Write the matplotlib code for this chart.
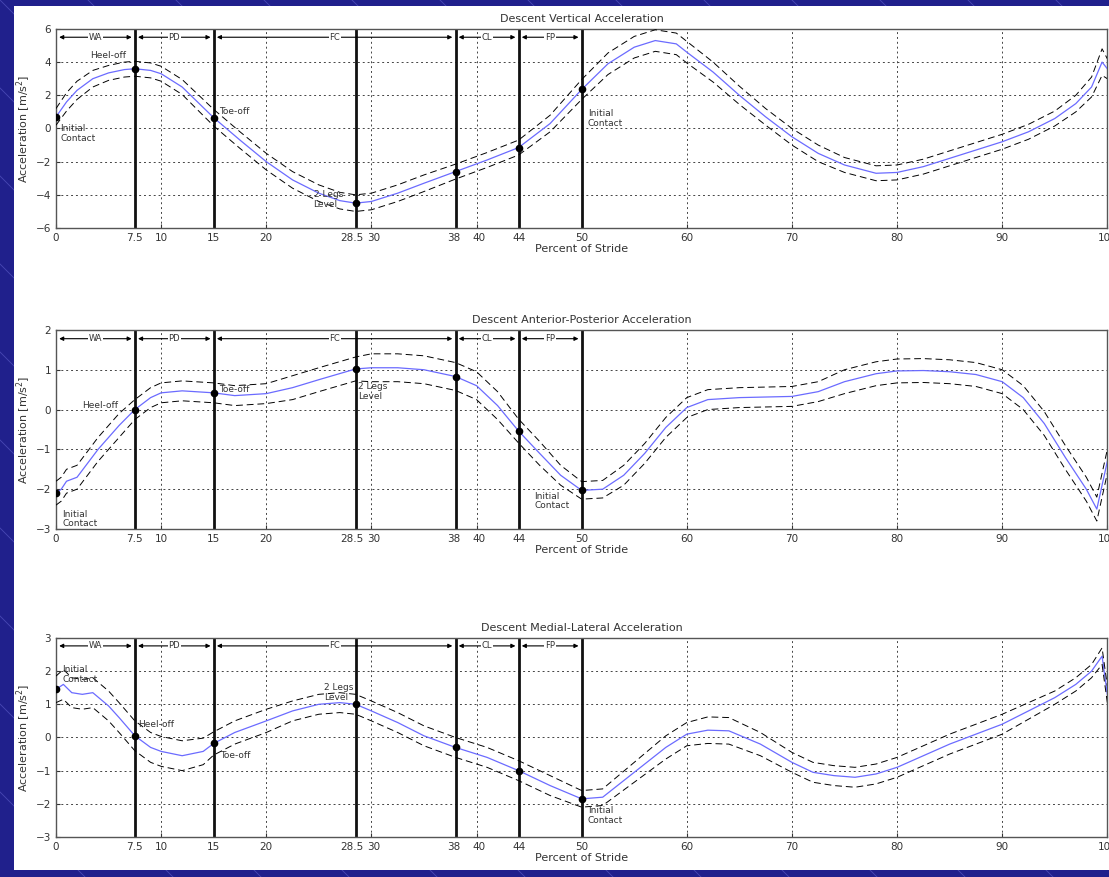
import numpy as np
import matplotlib
matplotlib.use("Agg")
import matplotlib.pyplot as plt
import matplotlib.transforms as mtransforms
from matplotlib.patches import Rectangle
from matplotlib.lines import Line2D

# ---- data ----
events = [7.5, 15, 28.5, 38, 44, 50]
xticks = [0, 7.5, 10, 15, 20, 28.5, 30, 38, 40, 44, 50, 60, 70, 80, 90, 100]
xticklabels = ["0", "7.5", "10", "15", "20", "28.5", "30", "38", "40", "44", "50",
               "60", "70", "80", "90", "100"]
phases = [("WA", 0, 7.5), ("PD", 7.5, 15), ("FC", 15, 38), ("CL", 38, 44), ("FP", 44, 50)]

# vertical
vert_x = [0, 1, 2, 3.5, 5, 6.5, 7.5, 9, 10, 12, 15, 17.5, 20, 22.5, 25, 27, 28.5, 30, 32.5, 35, 38, 41, 44,
          47, 50, 52.5, 55, 57, 59, 60, 62.5, 65, 67.5, 70, 72.5, 75, 78, 80, 82.5, 85, 87.5, 90, 92.5,
          95, 97, 98.5, 99.5, 100]
vert_m = [0.7, 1.6, 2.3, 3.0, 3.35, 3.55, 3.6, 3.5, 3.3, 2.5, 0.65, -0.7, -2.0, -3.1, -3.9, -4.35, -4.5,
          -4.4, -3.9, -3.3, -2.6, -1.9, -1.15, 0.3, 2.35, 3.9, 4.9, 5.3, 5.1, 4.6, 3.4, 2.0, 0.7, -0.5,
          -1.5, -2.2, -2.7, -2.65, -2.3, -1.8, -1.3, -0.8, -0.2, 0.6, 1.5, 2.5, 4.0, 3.6]
vert_sd = [0.5, 0.55, 0.55, 0.5, 0.45, 0.45, 0.45, 0.45, 0.45, 0.45, 0.5, 0.5, 0.5, 0.5, 0.5, 0.5, 0.5,
           0.5, 0.5, 0.5, 0.45, 0.45, 0.45, 0.5, 0.6, 0.65, 0.65, 0.65, 0.65, 0.65, 0.6, 0.55, 0.5, 0.5,
           0.5, 0.45, 0.45, 0.45, 0.45, 0.45, 0.45, 0.45, 0.45, 0.45, 0.5, 0.6, 0.8, 0.6]
vert_pts = [0.7, 3.6, 0.65, -4.5, -2.6, -1.15, 2.35]

# anterior-posterior
ap_x = [0, 0.5, 1, 2, 3, 4, 5, 6, 7.5, 9, 10, 12, 15, 17, 20, 22.5, 25, 28.5, 30, 32.5, 35, 38, 40, 42,
        44, 46, 48, 50, 52, 54, 56, 58, 60, 62, 65, 70, 72.5, 75, 78, 80, 82.5, 85, 87.5, 90, 92,
        94, 96, 98, 99, 100]
ap_m = [-2.1, -2.0, -1.8, -1.7, -1.35, -1.0, -0.7, -0.4, 0.0, 0.3, 0.42, 0.47, 0.42, 0.35, 0.4, 0.55,
        0.75, 1.02, 1.05, 1.05, 1.0, 0.83, 0.6, 0.1, -0.54, -1.1, -1.65, -2.03, -2.0, -1.65, -1.1, -0.45,
        0.05, 0.25, 0.3, 0.33, 0.45, 0.7, 0.9, 0.97, 0.98, 0.95, 0.88, 0.7, 0.3, -0.35, -1.2, -2.0, -2.5,
        -1.3]
ap_sd = [0.3, 0.3, 0.3, 0.3, 0.3, 0.3, 0.3, 0.3, 0.25, 0.25, 0.25, 0.25, 0.25, 0.25, 0.25, 0.3, 0.3,
         0.3, 0.35, 0.35, 0.35, 0.35, 0.35, 0.35, 0.3, 0.3, 0.25, 0.22, 0.22, 0.25, 0.25, 0.25, 0.25,
         0.25, 0.25, 0.25, 0.25, 0.3, 0.3, 0.3, 0.3, 0.3, 0.3, 0.3, 0.3, 0.3, 0.3, 0.3, 0.3, 0.3]
ap_pts = [-2.1, 0.0, 0.42, 1.02, 0.83, -0.54, -2.03]

# medial-lateral
ml_x = [0, 0.7, 1.5, 2.5, 3.5, 5, 6, 7.5, 9, 10, 12, 14, 15, 17, 20, 22.5, 25, 27, 28.5, 30, 32.5, 35,
        38, 41, 44, 47, 50, 52, 55, 58, 60, 62, 64, 67, 70, 72, 74, 76, 78, 80, 82.5, 85, 87.5, 90,
        92.5, 95, 97, 98.5, 99.5, 100]
ml_m = [1.45, 1.6, 1.35, 1.3, 1.35, 0.95, 0.6, 0.05, -0.3, -0.42, -0.55, -0.42, -0.18, 0.15, 0.5, 0.8,
        1.0, 1.05, 1.0, 0.8, 0.45, 0.05, -0.3, -0.6, -1.0, -1.45, -1.85, -1.8, -1.05, -0.3, 0.1, 0.22,
        0.2, -0.2, -0.75, -1.05, -1.15, -1.2, -1.1, -0.9, -0.55, -0.2, 0.1, 0.4, 0.8, 1.2, 1.6, 2.0, 2.45,
        1.3]
ml_sd = [0.4, 0.45, 0.45, 0.45, 0.45, 0.45, 0.45, 0.45, 0.45, 0.45, 0.45, 0.4, 0.35, 0.35, 0.35, 0.3,
         0.3, 0.3, 0.3, 0.3, 0.3, 0.3, 0.3, 0.3, 0.3, 0.3, 0.25, 0.25, 0.3, 0.35, 0.35, 0.4, 0.4, 0.35,
         0.3, 0.3, 0.3, 0.3, 0.3, 0.3, 0.3, 0.3, 0.3, 0.3, 0.25, 0.2, 0.2, 0.2, 0.25, 0.25]
ml_pts = [1.45, 0.05, -0.18, 1.0, -0.3, -1.0, -1.85]

panels = [
    dict(title="Descent Vertical Acceleration", x=vert_x, m=vert_m, sd=vert_sd, pts=vert_pts,
         ylim=(-6, 6), yticks=np.arange(-6, 7, 2), arrow_y=5.5,
         notes=[("Heel-off", 3.2, 4.4), ("Initial\nContact", 0.4, -0.3),
                ("Toe-off", 15.5, 1.0), ("2 Legs\nLevel", 24.5, -4.3),
                ("Initial\nContact", 50.6, 0.6)],
         bottom=0.740),
    dict(title="Descent Anterior-Posterior Acceleration", x=ap_x, m=ap_m, sd=ap_sd, pts=ap_pts,
         ylim=(-3, 2), yticks=np.arange(-3, 3, 1), arrow_y=1.78,
         notes=[("Heel-off", 2.5, 0.1), ("Initial\nContact", 0.6, -2.75),
                ("Toe-off", 15.5, 0.5), ("2 Legs\nLevel", 28.7, 0.45),
                ("Initial\nContact", 45.5, -2.3)],
         bottom=0.3968),
    dict(title="Descent Medial-Lateral Acceleration", x=ml_x, m=ml_m, sd=ml_sd, pts=ml_pts,
         ylim=(-3, 3), yticks=np.arange(-3, 4, 1), arrow_y=2.76,
         notes=[("Initial\nContact", 0.6, 1.9), ("Heel-off", 7.8, 0.4),
                ("Toe-off", 15.6, -0.55), ("2 Legs\nLevel", 25.5, 1.35),
                ("Initial\nContact", 50.6, -2.35)],
         bottom=0.0456),
]

fig = plt.figure(figsize=(11.09, 8.77), dpi=100)
fig.patch.set_facecolor("#20208c")

# diagonal stripes of the slide background
for k in range(-12, 20):
    x0 = k * 88
    fig.add_artist(Line2D([x0 / 1109, (x0 + 900) / 1109], [1, 1 - 900 / 877],
                          transform=fig.transFigure, color="#4848b4", lw=0.6, zorder=-2))
fig.add_artist(Rectangle((14 / 1109, 0.008), 1, 0.985, transform=fig.transFigure,
                         facecolor="white", edgecolor="none", zorder=-1))

txt = "#333333"
for p in panels:
    ax = fig.add_axes([0.0505, p["bottom"], 0.948, 0.227])
    x = np.array(p["x"])
    m = np.array(p["m"])
    sd = np.array(p["sd"])
    ax.plot(x, m, color="#6b6bff", lw=0.9, zorder=3)
    ax.plot(x, m + sd, color="black", lw=0.7, ls=(0, (7, 4)), zorder=3)
    ax.plot(x, m - sd, color="black", lw=0.7, ls=(0, (7, 4)), zorder=3)
    for e in events:
        ax.axvline(e, color="#111111", lw=2.0, zorder=2)
    ax.plot([0] + events, p["pts"], "o", color="black", ms=4.5, zorder=4)

    # phase arrows along the top
    for name, a, b in phases:
        ax.annotate("", xy=(b - 0.3, p["arrow_y"]), xytext=(a + 0.3, p["arrow_y"]),
                    arrowprops=dict(arrowstyle="<|-|>", color="black", lw=0.8,
                                    mutation_scale=6, shrinkA=0, shrinkB=0), zorder=5)
        ax.text((a + b) / 2, p["arrow_y"], name, ha="center", va="center", fontsize=6,
                color=txt, bbox=dict(facecolor="white", edgecolor="none", pad=0.5), zorder=6)

    for label, tx, ty in p["notes"]:
        ax.text(tx, ty, label, fontsize=6.5, color=txt, ha="left", va="center", zorder=6,
                linespacing=1.1)

    ax.set_xlim(0, 100)
    ax.set_ylim(*p["ylim"])
    ax.set_xticks(xticks)
    ax.set_xticklabels(xticklabels)
    ax.set_yticks(p["yticks"])
    ax.grid(True, color="#444444", ls=(0, (2, 3)), lw=0.7)
    ax.tick_params(labelsize=7.5, colors=txt, length=3, direction="in")
    # the reference squeezes close labels apart a little
    for lab in ax.get_xticklabels():
        shift = {"28.5": -4, "30": 2, "38": -2, "40": 2}.get(lab.get_text(), 0)
        if shift:
            lab.set_transform(lab.get_transform() +
                              mtransforms.ScaledTranslation(shift / 100, 0, fig.dpi_scale_trans))
    for s in ax.spines.values():
        s.set_color("#555555")
        s.set_linewidth(1.0)
    ax.set_title(p["title"], fontsize=8, color=txt, pad=5)
    ax.set_xlabel("Percent of Stride", fontsize=8, color=txt, labelpad=1)
    ax.set_ylabel("Acceleration [m/s$^2$]", fontsize=8, color=txt, labelpad=2)

fig.savefig("out.png", dpi=100, facecolor=fig.get_facecolor())
